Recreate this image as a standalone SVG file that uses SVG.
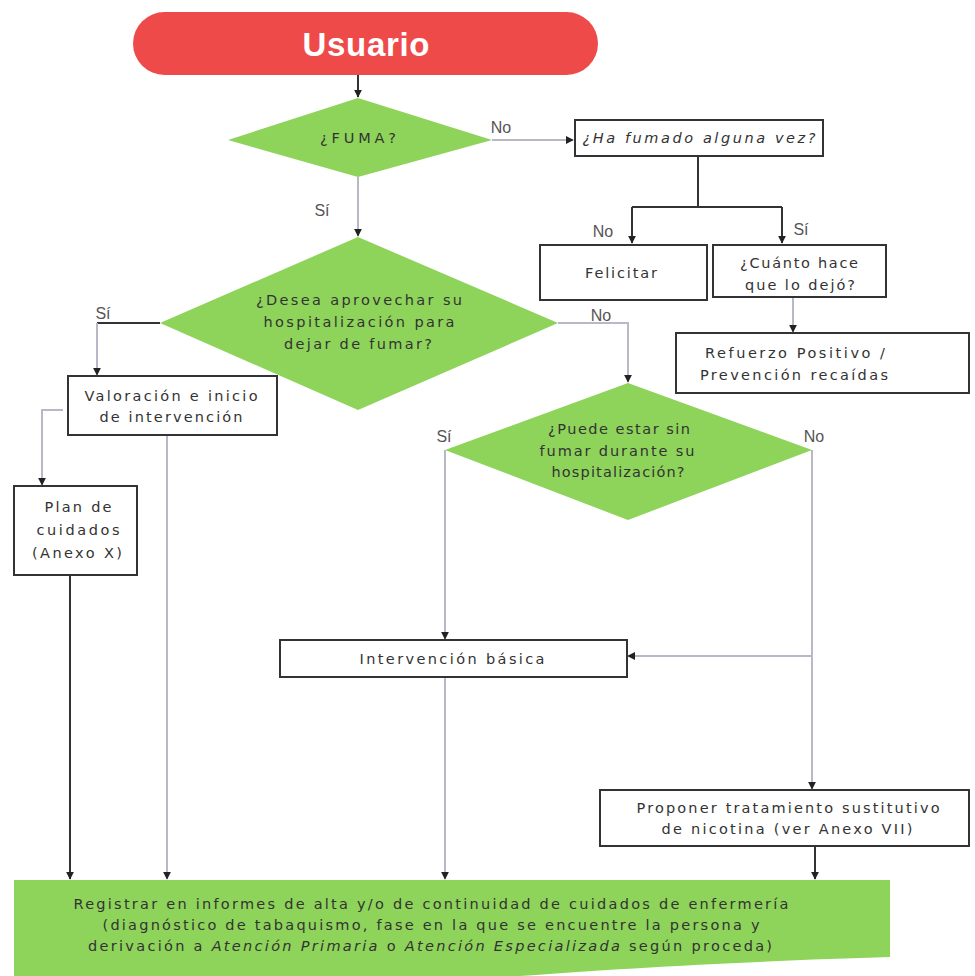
<svg xmlns="http://www.w3.org/2000/svg" width="975" height="976" viewBox="0 0 975 976">
<defs>
<marker id="ah" viewBox="0 0 10 10" refX="9" refY="5" markerWidth="8" markerHeight="8" markerUnits="userSpaceOnUse" orient="auto">
<path d="M0,0 L10,5 L0,10 Z" fill="#222"/>
</marker>
</defs>
<style>
.box{fill:#fff;stroke:#333;stroke-width:2}
.dia{fill:#8ed35a;stroke:none}
.t{font-family:"DejaVu Sans","Liberation Sans",sans-serif;font-size:14.5px;fill:#333;text-anchor:middle}
.lbl{font-family:"Liberation Sans",Arial,sans-serif;font-size:16px;fill:#555;text-anchor:middle}
.dk{stroke:#333;stroke-width:2;fill:none}
.lt{stroke:#b8b8c8;stroke-width:2;fill:none}
</style>
<rect width="975" height="976" fill="#fff"/>
<g id="connectors">
<path class="dk" d="M358,75 V97" marker-end="url(#ah)"/>
<path class="lt" d="M492,140 H573" marker-end="url(#ah)"/>
<path class="dk" d="M698,156 V207 M632,207 H782"/>
<path class="dk" d="M632,207 V243" marker-end="url(#ah)"/>
<path class="dk" d="M782,207 V243" marker-end="url(#ah)"/>
<path class="lt" d="M793,297 V332" marker-end="url(#ah)"/>
<path class="lt" d="M358,177 V236" marker-end="url(#ah)"/>
<path class="dk" d="M160,323 H97"/>
<path class="lt" d="M97,323 V375" marker-end="url(#ah)"/>
<path class="lt" d="M558,323 H628 V382" marker-end="url(#ah)"/>
<path class="lt" d="M63,410 H42 V485" marker-end="url(#ah)"/>
<path class="lt" d="M167,435 V879" marker-end="url(#ah)"/>
<path class="dk" d="M70,575 V879" marker-end="url(#ah)"/>
<path class="lt" d="M445,450 V639" marker-end="url(#ah)"/>
<path class="lt" d="M812,450 V789" marker-end="url(#ah)"/>
<path class="lt" d="M812,656 H628" marker-end="url(#ah)"/>
<path class="lt" d="M445,677 V879" marker-end="url(#ah)"/>
<path class="dk" d="M815,846 V879" marker-end="url(#ah)"/>
<text class="lbl" x="501" y="133">No</text>
<text class="lbl" x="603" y="237">No</text>
<text class="lbl" x="801" y="235">Sí</text>
<text class="lbl" x="322" y="216">Sí</text>
<text class="lbl" x="103" y="319">Sí</text>
<text class="lbl" x="601" y="321">No</text>
<text class="lbl" x="444" y="442">Sí</text>
<text class="lbl" x="814" y="442">No</text>
</g>
<g id="usuario">
<rect x="133" y="12" width="465" height="63" rx="31.5" fill="#ef4a4a"/>
<text x="366" y="56" font-family="Liberation Sans Narrow,Liberation Sans,Arial,sans-serif" font-size="33" font-weight="bold" fill="#fff" text-anchor="middle" textLength="127">Usuario</text>
</g>
<g id="fuma">
<polygon class="dia" points="358,98 492,140 358,177 228,140"/>
<text class="t" x="358" y="143" textLength="76">¿FUMA?</text>
</g>
<g id="hafumado">
<rect class="box" x="575" y="120" width="248" height="36"/>
<text class="t" x="699" y="143" textLength="233" font-style="italic">¿Ha fumado alguna vez?</text>
</g>
<g id="felicitar">
<rect class="box" x="540" y="245" width="167" height="55"/>
<text class="t" x="621" y="278" textLength="72">Felicitar</text>
</g>
<g id="cuanto">
<rect class="box" x="713" y="245" width="173" height="52"/>
<text class="t" x="799" y="268" textLength="118">¿Cuánto hace</text>
<text class="t" x="800" y="290" textLength="110">que lo dejó?</text>
</g>
<g id="refuerzo">
<rect class="box" x="676" y="333" width="293" height="60"/>
<text class="t" x="795" y="358" textLength="180">Refuerzo Positivo /</text>
<text class="t" x="794" y="380" textLength="188">Prevención recaídas</text>
</g>
<g id="desea">
<polygon class="dia" points="358,237 558,323 358,410 160,323"/>
<text class="t" x="359" y="305" textLength="206">¿Desea aprovechar su</text>
<text class="t" x="359" y="327" textLength="191">hospitalización para</text>
<text class="t" x="358" y="349" textLength="148">dejar de fumar?</text>
</g>
<g id="valoracion">
<rect class="box" x="68" y="376" width="209" height="59"/>
<text class="t" x="171" y="401" textLength="173">Valoración e inicio</text>
<text class="t" x="171" y="422" textLength="143">de intervención</text>
</g>
<g id="plan">
<rect class="box" x="14" y="486" width="123" height="89"/>
<text class="t" x="78" y="512" textLength="67">Plan de</text>
<text class="t" x="78" y="535" textLength="83">cuidados</text>
<text class="t" x="77" y="558" textLength="90">(Anexo X)</text>
</g>
<g id="puede">
<polygon class="dia" points="628,383 812,450 628,520 445,450"/>
<text class="t" x="619" y="434" textLength="142">¿Puede estar sin</text>
<text class="t" x="617" y="456" textLength="155">fumar durante su</text>
<text class="t" x="618" y="477" textLength="133">hospitalización?</text>
</g>
<g id="intervencion">
<rect class="box" x="280" y="640" width="347" height="37"/>
<text class="t" x="452" y="664" textLength="185">Intervención básica</text>
</g>
<g id="proponer">
<rect class="box" x="600" y="790" width="369" height="56"/>
<text class="t" x="788" y="813" textLength="303">Proponer tratamiento sustitutivo</text>
<text class="t" x="787" y="834" textLength="251">de nicotina (ver Anexo VII)</text>
</g>
<g id="registrar">
<path d="M14,880 H890 V957 C780,960 620,968 520,976 H14 Z" fill="#8ed35a"/>
<text class="t" x="431" y="909" textLength="715" fill="#222">Registrar en informes de alta y/o de continuidad de cuidados de enfermería</text>
<text class="t" x="431" y="930" textLength="657" fill="#222">(diagnóstico de tabaquismo, fase en la que se encuentre la persona y</text>
<text class="t" x="430" y="951" textLength="684" fill="#222">derivación a <tspan font-style="italic">Atención Primaria</tspan> o <tspan font-style="italic">Atención Especializada</tspan> según proceda)</text>
</g>
</svg>
